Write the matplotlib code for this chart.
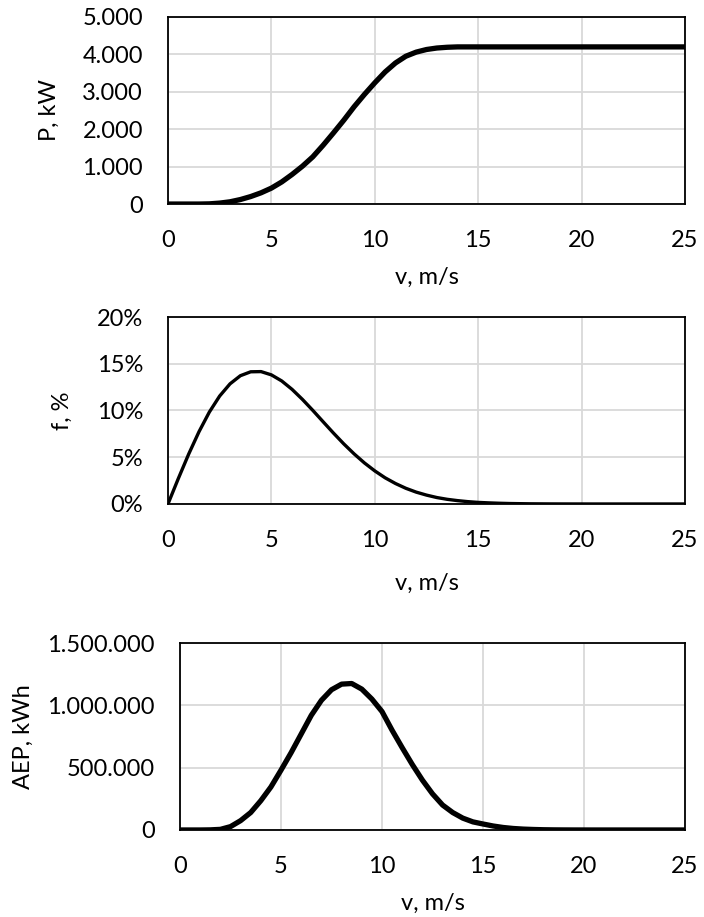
import numpy as np
import matplotlib
matplotlib.use('Agg')
import matplotlib.pyplot as plt
from matplotlib.ticker import FuncFormatter, MultipleLocator

plt.rcParams['font.family'] = ['Lato', 'DejaVu Sans']

# wind speed grid, m/s
v = np.arange(0, 25.5, 0.5)

# power curve, kW
power = [0, 0, 0, 0, 5, 25, 60, 120, 200, 300,
         425, 590, 790, 1010, 1260, 1570, 1900, 2240, 2600, 2930,
         3240, 3530, 3770, 3950, 4060, 4130, 4170, 4190, 4200] + [4200] * 22

# frequency of wind speed, %
freq = [0, 2.72, 5.33, 7.73, 9.83, 11.55, 12.85, 13.72, 14.14, 14.16,
        13.81, 13.16, 12.26, 11.19, 10.02, 8.80, 7.59, 6.43, 5.36, 4.39,
        3.54, 2.80, 2.19, 1.68, 1.27, 0.95, 0.69, 0.50, 0.36, 0.25,
        0.17, 0.12, 0.08, 0.05, 0.034, 0.02, 0.014, 0.008, 0.005, 0.003,
        0.002] + [0] * 10

# annual energy production, kWh
aep = [0, 0, 0, 1000, 5000, 27000, 75000, 140000, 235000, 345000,
       480000, 620000, 770000, 920000, 1040000, 1125000, 1170000, 1175000, 1130000, 1050000,
       950000, 800000, 660000, 525000, 400000, 290000, 200000, 140000, 95000, 65000,
       48000, 32000, 20000, 12000, 7000, 4000, 2000, 1000, 500, 200,
       100] + [0] * 10

dot_thousands = FuncFormatter(lambda x, pos: f"{x:,.0f}".replace(',', '.'))
percent = FuncFormatter(lambda x, pos: f"{x:.0f}%")

fig = plt.figure(figsize=(7.04, 9.17), dpi=100)

# (rect, data, ylim, ystep, formatter, ylabel, ylabel x, line width)
panels = [
    ([0.2386, 0.7775, 0.7344, 0.204], power, 5000, 1000, dot_thousands, 'P, kW', -0.209, 3.8),
    ([0.2386, 0.4504, 0.7344, 0.2039], freq, 20, 5, percent, 'f, %', -0.184, 2.4),
    ([0.2557, 0.0949, 0.7173, 0.2039], aep, 1500000, 500000, dot_thousands, 'AEP, kWh', -0.29, 3.8),
]
xlabel_y = [-0.39, -0.4225, -0.39]

for (rect, data, ymax, ystep, fmt, ylab, ylx, lw), xly in zip(panels, xlabel_y):
    ax = fig.add_axes(rect)
    ax.plot(v, data, color='black', lw=lw, solid_joinstyle='round', zorder=3)
    ax.set_xlim(0, 25)
    ax.set_ylim(0, ymax)
    ax.xaxis.set_major_locator(MultipleLocator(5))
    ax.yaxis.set_major_locator(MultipleLocator(ystep))
    ax.yaxis.set_major_formatter(fmt)
    ax.grid(True, color='#d9d9d9', lw=1.3, zorder=0)
    ax.set_axisbelow(True)
    for s in ax.spines.values():
        s.set_color('black')
        s.set_linewidth(1.3)
    ax.tick_params(length=0, labelsize=17, colors='#000000')
    ax.tick_params(axis='x', pad=19)
    ax.tick_params(axis='y', pad=18)
    ax.set_ylabel(ylab, fontsize=17)
    ax.yaxis.set_label_coords(ylx, 0.5)
    ax.text(0.5, xly, 'v, m/s', transform=ax.transAxes, ha='center', va='center', fontsize=17)

fig.savefig('out.png', dpi=100)
